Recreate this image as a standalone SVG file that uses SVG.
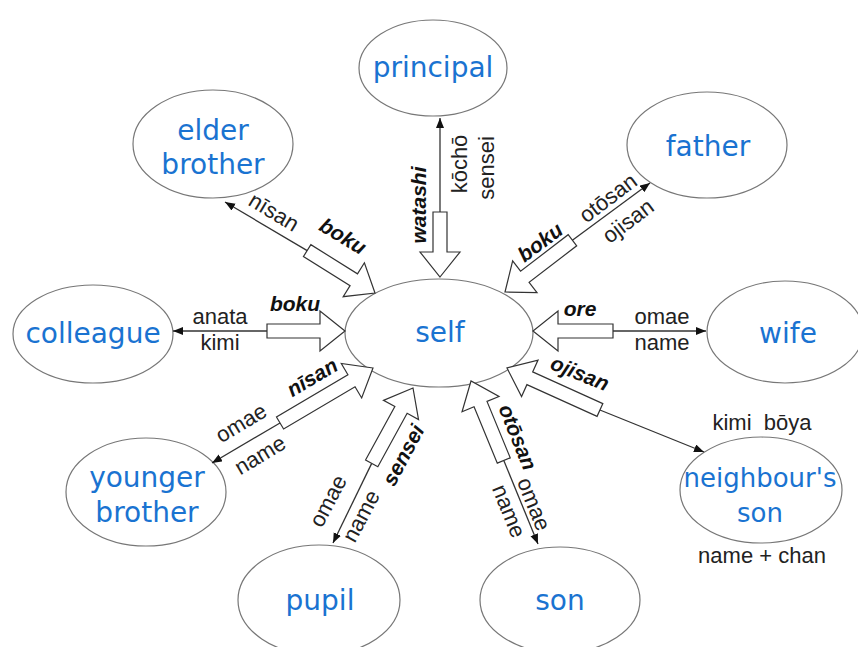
<svg xmlns="http://www.w3.org/2000/svg" width="858" height="647" viewBox="0 0 858 647">
<style>
.node ellipse{fill:#fff;stroke:#777;stroke-width:1.2}
.nt{font-family:"DejaVu Sans",sans-serif;font-size:28px;fill:#1a73d1;text-anchor:middle}
.lb{font-family:"Liberation Sans",Arial,sans-serif;font-size:22px;fill:#222;text-anchor:middle}
.bi{font-family:"Liberation Sans",Arial,sans-serif;font-size:21px;font-weight:bold;font-style:italic;fill:#111;text-anchor:middle}
.c{dominant-baseline:central}
.thin{stroke:#333;stroke-width:1.3;fill:none;marker-end:url(#ah)}
.blk{fill:#fff;stroke:#333;stroke-width:1.2;stroke-linejoin:miter}
</style>
<defs>
<marker id="ah" markerUnits="userSpaceOnUse" markerWidth="11" markerHeight="9" refX="10" refY="4" orient="auto">
<path d="M0,0 L10,4 L0,8 z" fill="#111"/>
</marker>
</defs>
<rect width="858" height="647" fill="#fff"/>

<g id="nodes">
<g id="principal" class="node"><ellipse cx="433" cy="68" rx="74" ry="48"/><text class="nt" x="433" y="77">principal</text></g>
<g id="elder" class="node"><ellipse cx="213" cy="144" rx="80" ry="54"/><text class="nt" x="213" y="140">elder</text><text class="nt" x="213" y="174">brother</text></g>
<g id="father" class="node"><ellipse cx="707" cy="145" rx="80" ry="53"/><text class="nt" x="708" y="156">father</text></g>
<g id="colleague" class="node"><ellipse cx="93" cy="334" rx="80" ry="49"/><text class="nt" x="93" y="343">colleague</text></g>
<g id="self" class="node"><ellipse cx="439" cy="333" rx="94" ry="54"/><text class="nt" x="440" y="342">self</text></g>
<g id="wife" class="node"><ellipse cx="785" cy="332" rx="78" ry="51"/><text class="nt" x="788" y="343">wife</text></g>
<g id="younger" class="node"><ellipse cx="146" cy="492" rx="80" ry="54"/><text class="nt" x="147" y="487">younger</text><text class="nt" x="147" y="522">brother</text></g>
<g id="neighbour" class="node"><ellipse cx="761" cy="490" rx="81" ry="53"/><text class="nt" x="760" y="487" style="font-size:26px">neighbour's</text><text class="nt" x="760" y="522" style="font-size:26px">son</text></g>
<g id="pupil" class="node"><ellipse cx="319" cy="600" rx="81" ry="55"/><text class="nt" x="320" y="610">pupil</text></g>
<g id="son" class="node"><ellipse cx="560" cy="600" rx="80" ry="53"/><text class="nt" x="560" y="610">son</text></g>
</g>

<g id="connectors">
<line class="thin" x1="440" y1="212" x2="440" y2="118"/>
<polygon class="blk" transform="translate(440,277) rotate(90)" points="0,0 -25,-20 -25,-7 -65,-7 -65,7 -25,7 -25,20"/>
<line class="thin" x1="307.2" y1="250.6" x2="225" y2="202"/>
<polygon class="blk" transform="translate(375,293) rotate(32)" points="0,0 -25,-20 -25,-7 -80,-7 -80,7 -25,7 -25,20"/>
<line class="thin" x1="572.4" y1="240.2" x2="650" y2="183"/>
<polygon class="blk" transform="translate(505,292) rotate(142.5)" points="0,0 -25,-20 -25,-7 -85,-7 -85,7 -25,7 -25,20"/>
<line class="thin" x1="267" y1="331" x2="173" y2="331"/>
<polygon class="blk" transform="translate(345,331)" points="0,0 -25,-20 -25,-7 -78,-7 -78,7 -25,7 -25,20"/>
<line class="thin" x1="613" y1="331" x2="706" y2="331"/>
<polygon class="blk" transform="translate(533,331) rotate(180)" points="0,0 -25,-20 -25,-7 -80,-7 -80,7 -25,7 -25,20"/>
<line class="thin" x1="280" y1="423" x2="212" y2="463"/>
<polygon class="blk" transform="translate(373,368) rotate(-30.6)" points="0,0 -25,-20 -25,-7 -108,-7 -108,7 -25,7 -25,20"/>
<line class="thin" x1="371.7" y1="463.4" x2="333" y2="543"/>
<polygon class="blk" transform="translate(413,388) rotate(-61.3)" points="0,0 -25,-20 -25,-7 -86,-7 -86,7 -25,7 -25,20"/>
<line class="thin" x1="503.8" y1="460.5" x2="538" y2="544"/>
<polygon class="blk" transform="translate(471,381) rotate(-112.4)" points="0,0 -25,-20 -25,-7 -86,-7 -86,7 -25,7 -25,20"/>
<line class="thin" x1="599.9" y1="410" x2="704" y2="452"/>
<polygon class="blk" transform="translate(507,368) rotate(-155.7)" points="0,0 -25,-20 -25,-7 -102,-7 -102,7 -25,7 -25,20"/>
</g>

<g id="labels">
<text class="bi c" transform="translate(418,205) rotate(-90)">watashi</text>
<text class="lb c" transform="translate(459,164) rotate(-90)">kōchō</text>
<text class="lb c" transform="translate(486,168) rotate(-90)">sensei</text>

<text class="lb c" transform="translate(274,212) rotate(31)">nīsan</text>
<text class="bi c" transform="translate(343,236) rotate(31)">boku</text>

<text class="bi c" transform="translate(540,242) rotate(-37)">boku</text>
<text class="lb c" transform="translate(608,198) rotate(-37)">otōsan</text>
<text class="lb c" transform="translate(628,221) rotate(-37)">ojisan</text>

<text class="lb" x="220" y="324">anata</text>
<text class="lb" x="220" y="350">kimi</text>
<text class="bi" x="295" y="311">boku</text>

<text class="bi" x="580" y="316">ore</text>
<text class="lb" x="662" y="324">omae</text>
<text class="lb" x="662" y="350">name</text>

<text class="bi c" transform="translate(312,377) rotate(-31)">nīsan</text>
<text class="lb c" transform="translate(241,423) rotate(-31)">omae</text>
<text class="lb c" transform="translate(260,455) rotate(-31)">name</text>

<text class="bi c" transform="translate(403,455) rotate(-62)">sensei</text>
<text class="lb c" transform="translate(328,501) rotate(-62)">omae</text>
<text class="lb c" transform="translate(361,516) rotate(-62)">name</text>

<text class="bi c" transform="translate(518,437) rotate(68)">otōsan</text>
<text class="lb c" transform="translate(534,504) rotate(68)">omae</text>
<text class="lb c" transform="translate(509,511) rotate(68)">name</text>

<text class="bi c" transform="translate(580,373) rotate(22)">ojisan</text>
<text class="lb" x="762" y="430" xml:space="preserve">kimi  bōya</text>
<text class="lb" x="762" y="563">name + chan</text>
</g>
</svg>
